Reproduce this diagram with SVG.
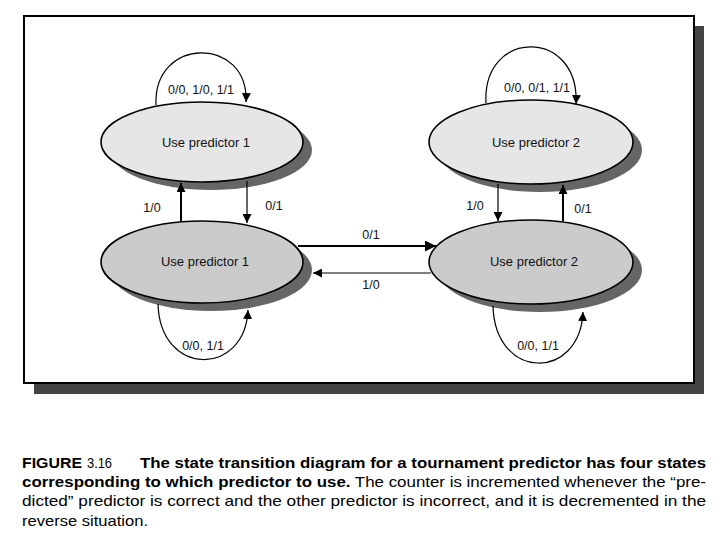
<svg xmlns="http://www.w3.org/2000/svg" width="720" height="540" viewBox="0 0 720 540">
<style>
.lbl{font-family:"Liberation Sans",Arial,sans-serif;font-size:12.5px;fill:#111}
.nl{font-size:13px}
.node{stroke:#000;stroke-width:1.6}
.top{fill:#e6e6e6}
.bot{fill:#cbcbcb}
.shadow{fill:#666}
.edge{fill:none;stroke:#000;stroke-width:1.2}
.thick{fill:none;stroke:#000;stroke-width:2}
.cap{font-family:"Liberation Sans Narrow","Liberation Sans",Arial,sans-serif;font-size:15px;fill:#000}
.b{font-weight:bold}
</style>
<defs>
<marker id="ah" viewBox="0 0 10 10" refX="10" refY="5" markerWidth="9" markerHeight="9" markerUnits="userSpaceOnUse" orient="auto">
<path d="M0,0 L10,5 L0,10 z" fill="#000"/>
</marker>
<marker id="ah2" viewBox="0 0 10 10" refX="10" refY="5" markerWidth="11" markerHeight="11" markerUnits="userSpaceOnUse" orient="auto">
<path d="M0,0 L10,5 L0,10 z" fill="#000"/>
</marker>
</defs>
<rect width="720" height="540" fill="#fff"/>
<g id="frame">
<rect x="34" y="26" width="670" height="368" fill="#444"/>
<rect x="24" y="16" width="670" height="367" fill="#fff" stroke="#000" stroke-width="2"/>
</g>
<g id="node-p1-strong">
<ellipse class="shadow" cx="211" cy="150" rx="101" ry="40"/>
<ellipse class="node top" cx="202" cy="142" rx="101" ry="40"/>
<text class="lbl nl" x="206" y="147" text-anchor="middle">Use predictor 1</text>
</g>
<g id="node-p2-strong">
<ellipse class="shadow" cx="540" cy="150" rx="102" ry="42"/>
<ellipse class="node top" cx="531" cy="142" rx="102" ry="42"/>
<text class="lbl nl" x="536" y="147" text-anchor="middle">Use predictor 2</text>
</g>
<g id="node-p1-weak">
<ellipse class="shadow" cx="211" cy="270" rx="101" ry="41"/>
<ellipse class="node bot" cx="202" cy="262" rx="101" ry="41"/>
<text class="lbl nl" x="205" y="266" text-anchor="middle">Use predictor 1</text>
</g>
<g id="node-p2-weak">
<ellipse class="shadow" cx="540" cy="270" rx="102" ry="42"/>
<ellipse class="node bot" cx="531" cy="262" rx="102" ry="42"/>
<text class="lbl nl" x="534" y="266" text-anchor="middle">Use predictor 2</text>
</g>
<g id="connectors">
<path class="edge" d="M156,105 C153,36 249,36 246,102" marker-end="url(#ah)"/>
<text class="lbl" x="201" y="94" text-anchor="middle">0/0, 1/0, 1/1</text>
<path class="edge" d="M486,103 C482,28 580,28 576,104" marker-end="url(#ah)"/>
<text class="lbl" x="537" y="92" text-anchor="middle">0/0, 0/1, 1/1</text>
<path class="thick" d="M181,222 L181,183" marker-end="url(#ah)"/>
<text class="lbl" x="152" y="212" text-anchor="middle">1/0</text>
<path class="edge" d="M247,181 L247,223" marker-end="url(#ah)"/>
<text class="lbl" x="274" y="210" text-anchor="middle">0/1</text>
<path class="edge" d="M498,184 L498,221" marker-end="url(#ah)"/>
<text class="lbl" x="475" y="210" text-anchor="middle">1/0</text>
<path class="thick" d="M563,221 L563,185" marker-end="url(#ah)"/>
<text class="lbl" x="583" y="213" text-anchor="middle">0/1</text>
<path class="thick" d="M298,246 L436,246" stroke-width="2.4" marker-end="url(#ah2)"/>
<text class="lbl" x="371" y="239" text-anchor="middle">0/1</text>
<path class="edge" d="M431,273 L313,273" stroke-width="1.5" marker-end="url(#ah)"/>
<text class="lbl" x="371" y="289" text-anchor="middle">1/0</text>
<path class="edge" d="M158,304 C160,377 245,377 248,310" marker-end="url(#ah)"/>
<text class="lbl" x="203" y="350" text-anchor="middle">0/0, 1/1</text>
<path class="edge" d="M493,306 C495,381 580,381 583,312" marker-end="url(#ah)"/>
<text class="lbl" x="538" y="350" text-anchor="middle">0/0, 1/1</text>
</g>
<g id="caption">
<text class="cap b" x="22" y="468" textLength="60" lengthAdjust="spacingAndGlyphs">FIGURE</text>
<text class="cap" x="87" y="468" font-size="13" textLength="25" lengthAdjust="spacingAndGlyphs">3.16</text>
<text class="cap b" x="140" y="468" textLength="566" lengthAdjust="spacingAndGlyphs">The state transition diagram for a tournament predictor has four states</text>
<text class="cap" x="22" y="487" textLength="684" lengthAdjust="spacingAndGlyphs"><tspan class="b">corresponding to which predictor to use.</tspan> The counter is incremented whenever the “pre-</text>
<text class="cap" x="22" y="506" textLength="684" lengthAdjust="spacingAndGlyphs">dicted” predictor is correct and the other predictor is incorrect, and it is decremented in the</text>
<text class="cap" x="22" y="526" textLength="126" lengthAdjust="spacingAndGlyphs">reverse situation.</text>
</g>
</svg>
